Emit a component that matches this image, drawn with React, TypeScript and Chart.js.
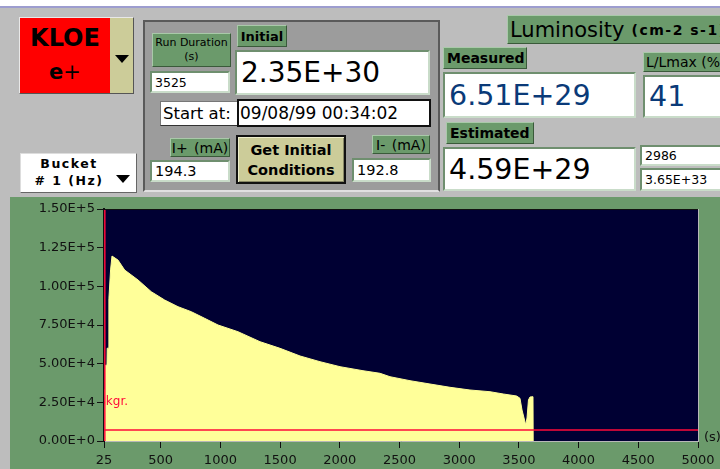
import React, { useEffect, useRef } from 'react';
import { Chart, registerables } from 'chart.js';
Chart.register(...registerables);

// ---- chart data ----
const timeS = [25, 36, 37, 50, 52, 64, 66, 80, 92, 142, 198, 310, 421, 533, 645, 756, 868, 980, 1147, 1332, 1499, 1667, 1834, 2002, 2194, 2337, 2420, 2588, 2755, 2923, 3090, 3258, 3369, 3481, 3509, 3526, 3547, 3557, 3568, 3580, 3593, 3618, 3620];
const rate = [33000, 33000, 49000, 49000, 60000, 60000, 92000, 110600, 119600, 117000, 110560, 104100, 96530, 91160, 86830, 83600, 79330, 75000, 70670, 64200, 59930, 54960, 51270, 48040, 45450, 43770, 41570, 38990, 36850, 34720, 32970, 31870, 30390, 29090, 27600, 20040, 13580, 10345, 14870, 26500, 28450, 28640, 0];
const xTickValues = [25, 500, 1000, 1500, 2000, 2500, 3000, 3500, 4000, 4500, 5000];
const xMin = 25;
const xMax = 5000;
const yMin = 0;
const yMax = 150000;
const yStep = 25000;
const bkgrLevel = 7100;
const cursorX = 32;
const cursorLabel = 'Bkgr.';
const cursorLabelY = 25000;

// ---- panel values ----
const runDuration = '3525';
const initialLum = '2.35E+30';
const startAt = '09/08/99 00:34:02';
const iPlus = '194.3';
const iMinus = '192.8';
const measuredLum = '6.51E+29';
const estimatedLum = '4.59E+29';
const lRatio = '41';
const aux1 = '2986';
const aux2 = '3.65E+33';

const GREEN = '#6b9a6b';
const YELLOW = '#ffff99';
const NAVY = '#000033';
const RED = '#ff0a3a';
const BLUE = '#0a3a78';
const FONT = '"DejaVu Sans", sans-serif';

function fmtExp(v: number): string {
  if (v === 0) return '0.00E+0';
  const e = Math.floor(Math.log10(Math.abs(v)) + 1e-9);
  const m = v / Math.pow(10, e);
  return m.toFixed(2) + 'E+' + e;
}

const plotPlugin = {
  id: 'plotDecor',
  beforeDatasetsDraw(chart: any) {
    const { ctx, chartArea: a } = chart;
    ctx.save();
    ctx.fillStyle = NAVY;
    ctx.fillRect(a.left, a.top, a.right - a.left, a.bottom - a.top);
    ctx.restore();
  },
  afterDraw(chart: any) {
    const { ctx, chartArea: a, scales } = chart;
    ctx.save();
    ctx.strokeStyle = '#b8b8b8';
    ctx.lineWidth = 1;
    ctx.beginPath();
    ctx.moveTo(a.right + 0.5, a.top);
    ctx.lineTo(a.right + 0.5, a.bottom);
    ctx.stroke();
    ctx.strokeStyle = '#111';
    ctx.beginPath();
    ctx.moveTo(a.left, a.top + 0.5);
    ctx.lineTo(a.right, a.top + 0.5);
    ctx.stroke();
    // cursor label, clipped by plot area
    ctx.beginPath();
    ctx.rect(a.left, a.top, a.right - a.left, a.bottom - a.top);
    ctx.clip();
    ctx.font = '12px ' + FONT;
    ctx.fillStyle = RED;
    ctx.textBaseline = 'middle';
    const bw = ctx.measureText('B').width;
    const px = scales.x.getPixelForValue(cursorX);
    const py = scales.y.getPixelForValue(cursorLabelY);
    ctx.fillText(cursorLabel, px - bw + 1, py);
    ctx.restore();
  },
};

function PlotChart() {
  const ref = useRef<HTMLCanvasElement>(null);
  useEffect(() => {
    if (!ref.current) return;
    const pts = timeS.map((t, i) => ({ x: t, y: rate[i] }));
    const chart = new Chart(ref.current, {
      type: 'line',
      data: {
        datasets: [
          {
            label: 'rate',
            data: pts,
            fill: 'origin',
            backgroundColor: YELLOW,
            borderColor: YELLOW,
            borderWidth: 1,
            pointRadius: 0,
            tension: 0,
            order: 3,
          },
          {
            label: 'bkgr',
            data: [{ x: xMin, y: bkgrLevel }, { x: xMax, y: bkgrLevel }],
            borderColor: RED,
            borderWidth: 1.5,
            pointRadius: 0,
            fill: false,
            order: 1,
          },
          {
            label: 'cursor',
            data: [{ x: cursorX, y: yMin }, { x: cursorX, y: yMax }],
            borderColor: RED,
            borderWidth: 1.5,
            pointRadius: 0,
            fill: false,
            order: 1,
          },
        ],
      },
      options: {
        responsive: false,
        animation: false,
        layout: { padding: { left: 0, right: 22, top: 12, bottom: 0 } },
        plugins: { legend: { display: false }, tooltip: { enabled: false } },
        scales: {
          x: {
            type: 'linear',
            min: xMin,
            max: xMax,
            afterBuildTicks: (s: any) => {
              s.ticks = xTickValues.map((v) => ({ value: v }));
            },
            afterFit: (s: any) => {
              s.height = 28;
            },
            ticks: {
              color: '#111',
              font: { family: FONT, size: 13 },
              padding: 5,
              maxRotation: 0,
              autoSkip: false,
              callback: (v: any) => String(v),
            },
            grid: { drawOnChartArea: false, drawTicks: true, tickLength: 7, tickColor: '#111', tickWidth: 1 },
            border: { display: true, color: '#b8b8b8', width: 1 },
          },
          y: {
            type: 'linear',
            min: yMin,
            max: yMax,
            afterFit: (s: any) => {
              s.width = 104;
            },
            ticks: {
              stepSize: yStep,
              color: '#111',
              font: { family: FONT, size: 13 },
              padding: 2,
              callback: (v: any) => fmtExp(Number(v)),
            },
            grid: { drawOnChartArea: false, drawTicks: true, tickLength: 7, tickColor: '#111', tickWidth: 1 },
            border: { display: true, color: '#111', width: 2 },
          },
        },
      },
      plugins: [plotPlugin],
    } as any);
    return () => chart.destroy();
  }, []);
  return (
    <canvas
      ref={ref}
      width={720}
      height={272}
      style={{ position: 'absolute', left: 0, top: 197, width: 720, height: 272 }}
    />
  );
}

type BoxProps = {
  x: number; y: number; w: number; h: number;
  bg?: string; borderColor?: string; borderWidth?: number;
  style?: React.CSSProperties; children?: React.ReactNode;
};

function Box({ x, y, w, h, bg, borderColor, borderWidth = 1, style, children }: BoxProps) {
  return (
    <div
      style={{
        position: 'absolute',
        left: x,
        top: y,
        width: w,
        height: h,
        boxSizing: 'border-box',
        background: bg,
        borderStyle: borderColor ? 'solid' : undefined,
        borderWidth: borderColor ? borderWidth : 0,
        borderColor,
        fontFamily: FONT,
        color: '#000',
        overflow: 'hidden',
        whiteSpace: 'nowrap',
        ...style,
      }}
    >
      {children}
    </div>
  );
}

const labelBorder = '#a9c9a9 #3a5a3a #3a5a3a #a9c9a9';
const valueBorder = '#6f8f6f #c9dcc9 #c9dcc9 #6f8f6f';

function Label(p: { x: number; y: number; w: number; h: number; children: React.ReactNode; style?: React.CSSProperties }) {
  return (
    <Box x={p.x} y={p.y} w={p.w} h={p.h} bg={GREEN} borderColor={labelBorder}
      style={{ display: 'flex', alignItems: 'center', justifyContent: 'center', ...p.style }}>
      {p.children}
    </Box>
  );
}

function Value(p: { x: number; y: number; w: number; h: number; children: React.ReactNode; style?: React.CSSProperties }) {
  return (
    <Box x={p.x} y={p.y} w={p.w} h={p.h} bg="#ffffff" borderColor={valueBorder} borderWidth={2}
      style={{ display: 'flex', alignItems: 'center', paddingLeft: 3, ...p.style }}>
      {p.children}
    </Box>
  );
}

export default function App() {
  return (
    <div style={{ position: 'absolute', left: 0, top: 0, width: 720, height: 469, overflow: 'hidden', background: '#bdbdbd' }}>
      {/* top strip */}
      <div style={{ position: 'absolute', left: 0, top: 0, width: 720, height: 6, background: '#ffffff' }} />
      <div style={{ position: 'absolute', left: 0, top: 6, width: 720, height: 2, background: '#9d9dcf' }} />

      {/* KLOE selector */}
      <Box x={19} y={17} w={115} h={77} bg="#cccc99" borderColor="#e8e8e8 #555 #555 #e8e8e8" borderWidth={1} />
      <Box x={20} y={18} w={90} h={75} bg="#ff0000"
        style={{ display: 'flex', flexDirection: 'column', alignItems: 'center', justifyContent: 'center' }}>
        <div style={{ fontWeight: 'bold', fontSize: 24, lineHeight: '30px', marginTop: -2 }}>KLOE</div>
        <div style={{ fontSize: 21, lineHeight: '30px', marginTop: 4 }}><b>e</b>+</div>
      </Box>
      <div style={{ position: 'absolute', left: 115, top: 55, width: 0, height: 0, borderLeft: '7px solid transparent', borderRight: '7px solid transparent', borderTop: '8px solid #000' }} />

      {/* Bucket selector */}
      <Box x={20} y={153} w={117} h={40} bg="#ffffff" borderColor="#dddddd #666 #666 #dddddd"
        style={{ fontWeight: 'bold', fontSize: 12.5, letterSpacing: 1.5, lineHeight: '16px', paddingTop: 2 }}>
        <div style={{ position: 'absolute', left: 0, width: 96, top: 2, textAlign: 'center' }}>Bucket</div>
        <div style={{ position: 'absolute', left: 0, width: 96, top: 19, textAlign: 'center' }}># 1 (Hz)</div>
      </Box>
      <div style={{ position: 'absolute', left: 116, top: 175, width: 0, height: 0, borderLeft: '7px solid transparent', borderRight: '7px solid transparent', borderTop: '8px solid #000' }} />

      {/* central panel */}
      <Box x={143} y={20} w={297} h={172} bg="#9c9c9c" borderColor="#5a5a5a #5a5a5a #e0e0e0 #5a5a5a" borderWidth={2} />
      <Label x={152} y={33} w={79} h={34} style={{ flexDirection: 'column', fontSize: 11, lineHeight: '14px' }}>
        <span>Run Duration</span>
        <span>(s)</span>
      </Label>
      <Value x={150} y={71} w={80} h={22} style={{ fontSize: 12.5 }}>{runDuration}</Value>
      <Label x={237} y={25} w={50} h={22} style={{ fontWeight: 'bold', fontSize: 13 }}>Initial</Label>
      <Value x={235} y={50} w={195} h={45} style={{ fontSize: 28, paddingLeft: 4 }}>{initialLum}</Value>
      <Box x={160} y={101} w={78} h={25} bg="#ffffff" borderColor="#777 #333 #333 #777"
        style={{ display: 'flex', alignItems: 'center', paddingLeft: 2, fontSize: 16.5 }}>Start at:</Box>
      <Box x={237} y={99} w={194} h={28} bg="#ffffff" borderColor="#111" borderWidth={2}
        style={{ display: 'flex', alignItems: 'center', paddingLeft: 1, fontSize: 17 }}>{startAt}</Box>
      <Label x={170} y={138} w={60} h={19} style={{ fontSize: 14, wordSpacing: 2 }}>I+ (mA)</Label>
      <Value x={150} y={160} w={80} h={22} style={{ fontSize: 14.5 }}>{iPlus}</Value>
      <Box x={236} y={135} w={110} h={49} bg="#cccc99" borderColor="#111" borderWidth={2}
        style={{ display: 'flex', flexDirection: 'column', alignItems: 'center', justifyContent: 'center', fontWeight: 'bold', fontSize: 14.5, lineHeight: '20px', boxShadow: 'inset 1px 1px 0 #eeeecc, inset -1px -1px 0 #888866' }}>
        <span>Get Initial</span>
        <span>Conditions</span>
      </Box>
      <Label x={372} y={135} w={58} h={19} style={{ fontSize: 14, wordSpacing: 2 }}>I- (mA)</Label>
      <Value x={352} y={158} w={79} h={24} style={{ fontSize: 14.5 }}>{iMinus}</Value>

      {/* right section */}
      <Label x={507} y={15} w={230} h={29} style={{ justifyContent: 'flex-start', paddingLeft: 2 }}>
        <span style={{ fontSize: 21 }}>Luminosity</span>
        <span style={{ fontSize: 14, fontWeight: 'bold', marginLeft: 7, letterSpacing: 1.5 }}>(cm-2 s-1)</span>
      </Label>
      <Label x={443} y={47} w={84} h={22} style={{ fontWeight: 'bold', fontSize: 14, justifyContent: 'flex-start', paddingLeft: 3 }}>Measured</Label>
      <Value x={443} y={72} w={193} h={46} style={{ fontSize: 28.5, color: BLUE, paddingLeft: 4 }}>{measuredLum}</Value>
      <Label x={643} y={52} w={90} h={20} style={{ fontSize: 14, justifyContent: 'flex-start', paddingLeft: 2 }}>L/Lmax (%)</Label>
      <Value x={643} y={75} w={90} h={43} style={{ fontSize: 28.5, color: BLUE, paddingLeft: 4 }}>{lRatio}</Value>
      <Label x={446} y={122} w={88} h={22} style={{ fontWeight: 'bold', fontSize: 14, justifyContent: 'flex-start', paddingLeft: 3 }}>Estimated</Label>
      <Value x={443} y={147} w={193} h={44} style={{ fontSize: 28.5, paddingLeft: 4 }}>{estimatedLum}</Value>
      <Value x={640} y={145} w={90} h={21} style={{ fontSize: 12.5 }}>{aux1}</Value>
      <Value x={640} y={168} w={90} h={23} style={{ fontSize: 12.5 }}>{aux2}</Value>

      {/* plot panel */}
      <div style={{ position: 'absolute', left: 0, top: 193, width: 720, height: 4, background: '#bdbdbd' }} />
      <div style={{ position: 'absolute', left: 10, top: 197, width: 710, height: 272, background: GREEN }} />
      <PlotChart />
      <div style={{ position: 'absolute', left: 704, top: 429, fontFamily: FONT, fontSize: 13, color: '#111', whiteSpace: 'nowrap' }}>(s)</div>
    </div>
  );
}
